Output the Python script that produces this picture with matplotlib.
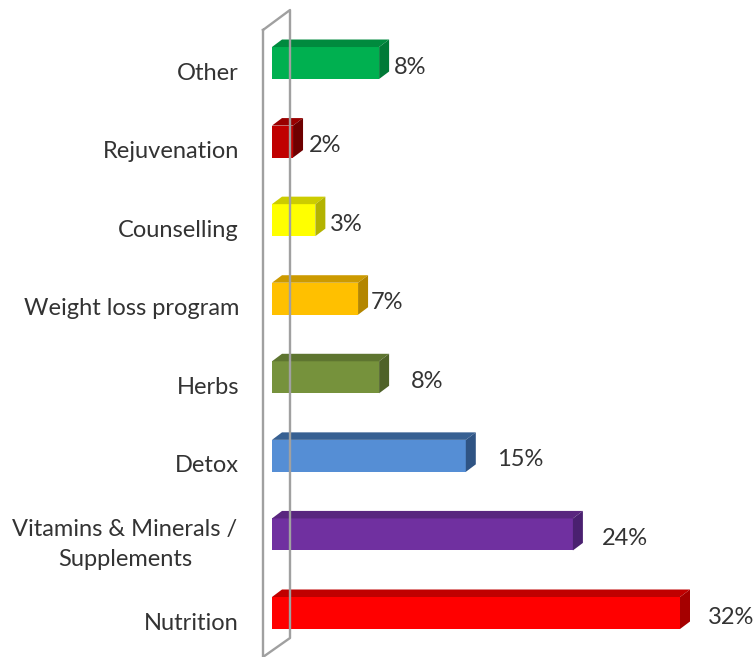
import matplotlib
matplotlib.use('Agg')
import matplotlib.pyplot as plt
from matplotlib.lines import Line2D
from matplotlib.patches import Polygon

plt.rcParams['font.family'] = ['Lato', 'DejaVu Sans']

# bottom to top, as on the axis
categories = ['Nutrition', 'Vitamins & Minerals /\nSupplements', 'Detox', 'Herbs',
              'Weight loss program', 'Counselling', 'Rejuvenation', 'Other']
values = [32, 23.6, 15.2, 8.4, 6.75, 3.4, 1.65, 8.4]
labels = ['32%', '24%', '15%', '8%', '7%', '3%', '2%', '8%']

front_colors = ['#FF0000', '#7030A0', '#558ED5', '#76923C', '#FFC000', '#FFFF00', '#C00000', '#00B050']
top_colors = ['#C00000', '#59267F', '#376092', '#5E7530', '#CC9A00', '#CCCC00', '#990000', '#008A3E']
side_colors = ['#A50000', '#4A2070', '#2F5484', '#4F6228', '#B38600', '#B3B300', '#6E0000', '#007A37']

# pixel layout of the picture
W, H = 756, 657
px_per_pct = 12.75
px_per_cat = 78.57
x0_px = 272
y0_px = 613
depth_x = 10 / px_per_pct
depth_y = 7.5 / px_per_cat
bar_h = 32 / px_per_cat
label_gap = [28, 29, 31, 32, 13, 15, 16, 15]

fig = plt.figure(figsize=(W / 100, H / 100), dpi=100)
ax = fig.add_axes([0, 0, 1, 1])
ax.set_xlim(-x0_px / px_per_pct, (W - x0_px) / px_per_pct)
ax.set_ylim(-(H - y0_px) / px_per_cat, y0_px / px_per_cat)
ax.axis('off')

# the thin side wall of the 3d chart
wall_x = [263, 290, 290, 263, 263]
wall_y = [30, 10, 638, 657, 30]
fig.add_artist(Line2D([x / W for x in wall_x], [1 - y / H for y in wall_y],
                      color='#A0A0A0', lw=1.7, zorder=1))

for i, v in enumerate(values):
    b = i - bar_h / 2
    t = i + bar_h / 2
    ax.barh(i, v, height=bar_h, color=front_colors[i], zorder=3)
    ax.add_patch(Polygon([(0, t), (depth_x, t + depth_y), (v + depth_x, t + depth_y), (v, t)],
                         color=top_colors[i], lw=0, zorder=3))
    ax.add_patch(Polygon([(v, b), (v + depth_x, b + depth_y), (v + depth_x, t + depth_y), (v, t)],
                         color=side_colors[i], lw=0, zorder=3))
    ax.text(v + label_gap[i] / px_per_pct, i - 4 / px_per_cat, labels[i], fontsize=17,
            color='#333333', ha='left', va='center', zorder=4)
    if '\n' in categories[i]:
        ax.text(-147 / px_per_pct, i - 10 / px_per_cat, categories[i], fontsize=17, color='#333333',
                ha='center', va='center', linespacing=1.5, zorder=4)
    else:
        ax.text(-33 / px_per_pct, i - 10 / px_per_cat, categories[i], fontsize=17, color='#333333',
                ha='right', va='center', zorder=4)

fig.savefig('out.png', dpi=100)
